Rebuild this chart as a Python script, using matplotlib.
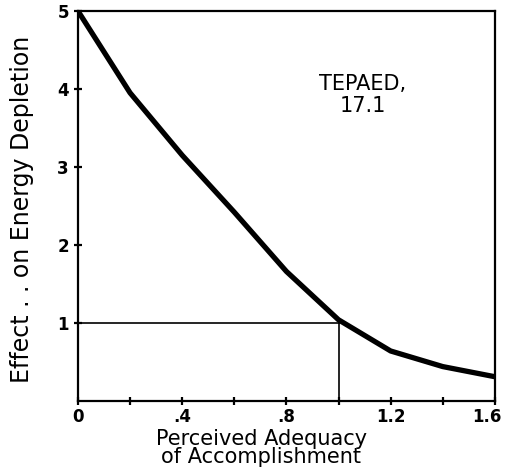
import matplotlib
matplotlib.use("Agg")
import matplotlib.pyplot as plt
from matplotlib.transforms import ScaledTranslation

adequacy = [0.0, 0.2, 0.4, 0.6, 0.8, 1.0, 1.2, 1.4, 1.6]
effect = [5.0, 3.95, 3.15, 2.42, 1.66, 1.04, 0.64, 0.44, 0.31]
x_ticks = [0, 0.4, 0.8, 1.2, 1.6]
x_tick_labels = ["0", ".4", ".8", "1.2", "1.6"]
x_minor = [0.2, 0.6, 1.0, 1.4]
y_ticks = [1, 2, 3, 4, 5]
ref_x = 1.0
ref_y = 1.0

fig = plt.figure(figsize=(5.06, 4.75), dpi=100)
ax = fig.add_axes([0.154, 0.156, 0.824, 0.821])

ax.plot(adequacy, effect, color="black", lw=3.8, solid_capstyle="round", solid_joinstyle="round", zorder=3)
ax.plot([0, ref_x], [ref_y, ref_y], color="black", lw=1.2)
ax.plot([ref_x, ref_x], [0, ref_y], color="black", lw=1.2)

ax.set_xlim(0, 1.6)
ax.set_ylim(0, 5)
ax.set_xticks(x_ticks)
ax.set_xticklabels(x_tick_labels)
ax.set_xticks(x_minor, minor=True)
ax.set_yticks(y_ticks)
for s in ax.spines.values():
    s.set_linewidth(1.6)
ax.tick_params(axis="both", which="both", direction="inout", length=6, width=1.6, labelsize=12)
ax.tick_params(axis="x", pad=2)
for lab in ax.get_xticklabels() + ax.get_yticklabels():
    lab.set_fontweight("bold")
last = ax.get_xticklabels()[-1]
last.set_transform(last.get_transform() + ScaledTranslation(-6 / 72, 0, fig.dpi_scale_trans))

ax.text(1.094, 3.92, "TEPAED,\n17.1", ha="center", va="center", fontsize=15, linespacing=1.1)
ax.set_xlabel("Perceived Adequacy\nof Accomplishment", fontsize=15, linespacing=0.9)
ax.xaxis.set_label_coords(0.44, -0.072, transform=ax.transAxes)
ax.xaxis.label.set_va("top")
ax.set_ylabel("Effect . . on Energy Depletion", fontsize=17, labelpad=8)
ax.yaxis.set_label_coords(-0.105, 0.49)

fig.savefig("out.png", dpi=100)
